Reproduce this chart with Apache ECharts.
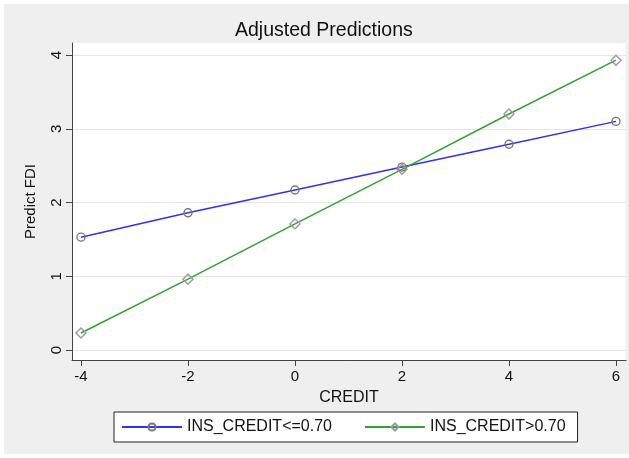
<!DOCTYPE html>
<html>
<head>
<meta charset="utf-8">
<script src="https://cdn.jsdelivr.net/npm/echarts@6/dist/echarts.min.js"></script>
<style>
  body { margin: 0; background: #ffffff; }
  #chart { position: absolute; left: 4px; top: 4px; width: 625px; height: 450px; background: #efefef; }
</style>
</head>
<body>
<div id="chart"></div>
<script>
  // values
  const credit = [-4, -2, 0, 2, 4, 6];
  const lowIns = [1.53, 1.86, 2.17, 2.48, 2.79, 3.10];
  const highIns = [0.23, 0.96, 1.71, 2.45, 3.20, 3.93];
  const xTicks = [-4, -2, 0, 2, 4, 6];
  const yTicks = [0, 1, 2, 3, 4];

  const font = 'Liberation Sans, Arial, sans-serif';
  const chart = echarts.init(document.getElementById('chart'));

  const toPairs = (ys) => credit.map((x, i) => [x, ys[i]]);

  chart.setOption({
    animation: false,
    textStyle: { fontFamily: font },
    title: {
      text: 'Adjusted Predictions',
      left: 231,
      top: 17,
      padding: 0,
      textStyle: { fontSize: 19.5, fontWeight: 'normal', color: '#111', fontFamily: font }
    },
    grid: {
      left: 68, top: 39, width: 554, height: 317,
      show: true, backgroundColor: '#ffffff', borderWidth: 0
    },
    legend: {
      left: 110, top: 408,
      padding: [7, 12, 7, 7],
      backgroundColor: '#ffffff',
      borderColor: '#222',
      borderWidth: 1,
      itemWidth: 60,
      itemHeight: 9,
      itemGap: 32,
      itemTextGap: 10,
      textStyle: { fontSize: 16, color: '#111', fontFamily: font },
      data: ['INS_CREDIT<=0.70', 'INS_CREDIT>0.70']
    },
    xAxis: {
      type: 'value',
      min: -4.168, max: 6.187,
      name: 'CREDIT',
      nameLocation: 'middle',
      nameGap: 30,
      nameTextStyle: { fontSize: 16, color: '#111' },
      axisLine: { show: true, onZero: false, lineStyle: { color: '#444', width: 1 } },
      axisTick: { show: true, length: 6, customValues: xTicks, lineStyle: { color: '#444' } },
      axisLabel: { customValues: xTicks, fontSize: 15, color: '#111', margin: 9 },
      splitLine: { show: false }
    },
    yAxis: {
      type: 'value',
      min: -0.136, max: 4.163,
      name: 'Predict FDI',
      nameLocation: 'middle',
      nameGap: 34,
      nameTextStyle: { fontSize: 15, color: '#111' },
      axisLine: { show: true, onZero: false, lineStyle: { color: '#444', width: 1 } },
      axisTick: { show: true, length: 6, customValues: yTicks, lineStyle: { color: '#444' } },
      axisLabel: { customValues: yTicks, fontSize: 15, color: '#111', rotate: 90, margin: 8 },
      splitLine: { show: true, lineStyle: { color: '#e6e6e6', width: 1 } }
    },
    series: [
      {
        name: 'INS_CREDIT<=0.70',
        type: 'line',
        data: toPairs(lowIns),
        symbol: 'circle',
        symbolSize: 8,
        lineStyle: { color: '#3030f8', width: 1.5 },
        itemStyle: { color: 'transparent', borderColor: '#777', borderWidth: 1.4 },
        emphasis: { disabled: true }
      },
      {
        name: 'INS_CREDIT>0.70',
        type: 'line',
        data: toPairs(highIns),
        symbol: 'diamond',
        symbolSize: 10,
        lineStyle: { color: '#33a033', width: 1.5 },
        itemStyle: { color: 'transparent', borderColor: '#999', borderWidth: 1.4 },
        emphasis: { disabled: true }
      }
    ]
  });
</script>
</body>
</html>
